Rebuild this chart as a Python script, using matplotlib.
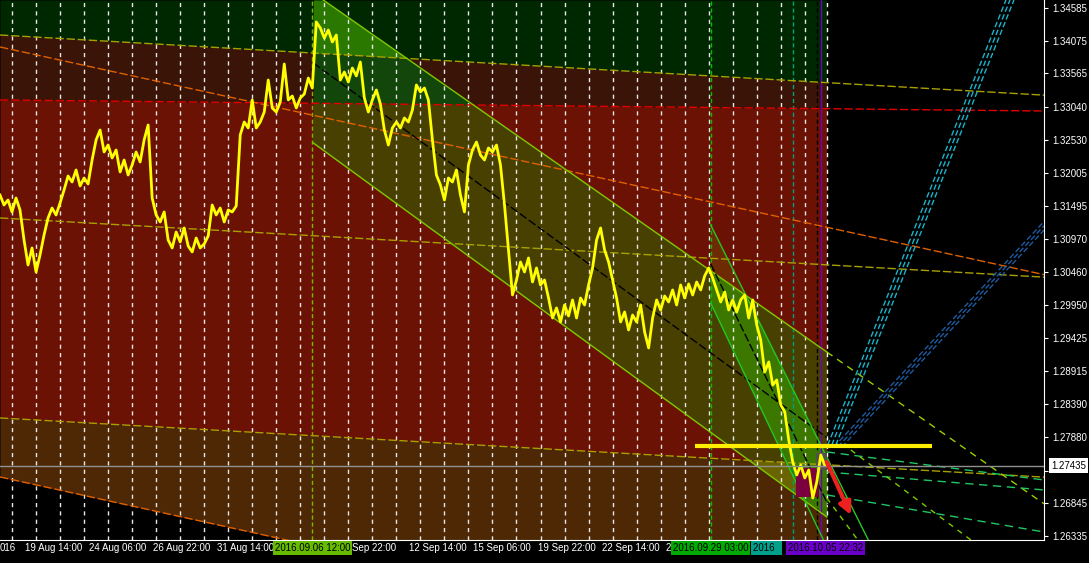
import numpy as np
import matplotlib
matplotlib.use("Agg")
import matplotlib.pyplot as plt

plt.rcParams['font.family'] = ['Liberation Sans', 'DejaVu Sans']

# close prices, one value per bar
close = [
    1.31663, 1.31507, 1.31585, 1.31398, 1.31616, 1.31429, 1.30960, 1.30569, 1.30835, 1.30460,
    1.30726, 1.31038, 1.31304, 1.31460, 1.31351, 1.31538, 1.31741, 1.31960, 1.31866, 1.32054,
    1.31804, 1.31929, 1.31835, 1.32210, 1.32523, 1.32679, 1.32335, 1.32444, 1.32241, 1.32366,
    1.32023, 1.32210, 1.31976, 1.32132, 1.32335, 1.32179, 1.32523, 1.32757, 1.31616, 1.31351,
    1.31241, 1.31398, 1.30960, 1.30835, 1.31085, 1.30929, 1.31148, 1.30866, 1.30773, 1.30991,
    1.30835, 1.30898, 1.31023, 1.31507, 1.31351, 1.31460, 1.31241, 1.31429, 1.31398, 1.31491,
    1.32601, 1.32804, 1.32710, 1.33148, 1.32710, 1.32804, 1.32960, 1.33460, 1.33023, 1.32960,
    1.33116, 1.33710, 1.33148, 1.33210, 1.33023, 1.33179, 1.33241, 1.33491, 1.33335, 1.34366,
    1.34273, 1.34116, 1.34241, 1.34054, 1.34163, 1.33460, 1.33585, 1.33429, 1.33648, 1.33523,
    1.33741, 1.33179, 1.32960, 1.33148, 1.33304, 1.33085, 1.32679, 1.32444, 1.32710, 1.32804,
    1.32710, 1.32866, 1.32804, 1.32991, 1.33382, 1.33273, 1.33335, 1.33148, 1.32523, 1.31976,
    1.31819, 1.31585, 1.31929, 1.31866, 1.32054, 1.31663, 1.31398, 1.32132, 1.32366, 1.32491,
    1.32288, 1.32210, 1.32398, 1.32335, 1.32444, 1.32132, 1.31507, 1.30804, 1.30101, 1.30335,
    1.30616, 1.30460, 1.30679, 1.30304, 1.30523, 1.30257, 1.30335, 1.30054, 1.29741, 1.29898,
    1.29679, 1.29944, 1.29773, 1.30023, 1.29741, 1.30054, 1.29944, 1.30257, 1.30523, 1.30960,
    1.31148, 1.30804, 1.30616, 1.30335, 1.30054, 1.29679, 1.29835, 1.29554, 1.29788, 1.29679,
    1.29944, 1.29523, 1.29273, 1.29741, 1.30023, 1.29866, 1.30085, 1.29991, 1.30179, 1.29944,
    1.30257, 1.30054, 1.30273, 1.30101, 1.30304, 1.30179, 1.30398, 1.30523, 1.30366, 1.30179,
    1.29991, 1.30148, 1.29866, 1.30023, 1.29835, 1.30023, 1.30101, 1.29741, 1.30023, 1.29632,
    1.29398, 1.28898, 1.29054, 1.28694, 1.28773, 1.28382, 1.28273, 1.27835, 1.27491, 1.27288,
    1.27444, 1.27241, 1.27366, 1.26929, 1.27179, 1.27601, 1.27435,
]
last_price = 1.27435

price_ticks = [1.34585, 1.34075, 1.33565, 1.33040, 1.32530, 1.32005, 1.31495, 1.30970,
               1.30460, 1.29950, 1.29425, 1.28915, 1.28390, 1.27880, 1.27355, 1.26845, 1.26335]
hidden_tick = 1.27355  # sits under the current-price box

# visible parts of the time scale (the rest is hidden under the marker boxes)
time_label_bars = [0, 6.25, 22.25, 38.25, 54.25, 88, 102.25, 118.25, 134.25, 150.25, 166.25]
time_labels = ["016", "19 Aug 14:00", "24 Aug 06:00", "26 Aug 22:00", "31 Aug 14:00",
               "Sep 22:00", "12 Sep 14:00", "15 Sep 06:00", "19 Sep 22:00", "22 Sep 14:00", "2"]

marker_bars = [78, 177.5, 206.25]
marker_labels = ["2016.09.06 12:00", "2016.09.29 03:00", "2016.10.05 22:32"]
marker_colors = ['#66bb00', '#00aa00', '#6a00c8']
teal_bar = 188.0
teal_label = "2016  "

# trend objects as (bar, price) anchor pairs
olive_top = [(0, 1.34163), (260, 1.33226)]
red_line = [(0, 1.33148), (260, 1.32976)]
orange_top = [(0, 1.33976), (260, 1.30429)]
olive_mid = [(0, 1.31304), (260, 1.30382)]
olive_low = [(0, 1.28179), (260, 1.27257)]
orange_low = [(0, 1.27257), (260, 1.23679)]
band_hi = [(78.25, 1.34819), (206.5, 1.29210)]
band_lo = [(78.25, 1.32476), (206.5, 1.26632)]
band_mid = [(78.25, 1.33726), (206.5, 1.27874)]
small_hi = [(177.5, 1.31194), (206.5, 1.27569)]
small_lo = [(177.5, 1.29976), (206.5, 1.26163)]
cyan_ray = [(206.75, 1.27757), (251.25, 1.34710)]
blue_ray = [(208.25, 1.27726), (260.75, 1.31249)]
fan_lines = [
    [(206.5, 1.27648), (260.75, 1.27210)],
    [(206.5, 1.27335), (260.75, 1.27054)],
    [(206.5, 1.26976), (260.75, 1.26397)],
]
fan_steep = [
    [(212.5, 1.27679), (242.5, 1.26272)],
    [(206.5, 1.26929), (214.25, 1.26272)],
]
level_line = [(173.5, 1.27741), (232.75, 1.27741)]
arrow_from = (206.5, 1.27491)
arrow_to = (212.5, 1.26663)

y_top, y_bot = 1.34710, 1.26272
x_end = 260.75
data_end = 206.5


def line_at(seg, x):
    (x0, y0), (x1, y1) = seg
    return y0 + (y1 - y0) * (np.asarray(x, dtype=float) - x0) / (x1 - x0)


fig = plt.figure(figsize=(10.89, 5.63), dpi=100, facecolor='black')
ax = fig.add_axes([0, 23 / 563, 1044 / 1089, 540 / 563])
ax.set_facecolor('black')
ax.set_xlim(0, x_end)
ax.set_ylim(y_bot, y_top)

# background zones
xz = np.linspace(0, data_end, 800)
top = np.full_like(xz, y_top)
zone_bounds = [
    (top, line_at(olive_top, xz), '#002800', '#2a7800'),
    (line_at(olive_top, xz), line_at(red_line, xz), '#3a1406', '#12460a'),
    (line_at(red_line, xz), line_at(olive_low, xz), '#6c1204', '#484000'),
    (line_at(olive_low, xz), line_at(orange_low, xz), '#4e2804', '#6a6400'),
]
for zt, zb, c, _ in zone_bounds:
    ax.fill_between(xz, zb, zt, color=c, lw=0, zorder=1)

# big regression channel, coloured per zone
bhi = line_at(band_hi, xz)
blo = line_at(band_lo, xz)
inband = xz >= band_hi[0][0]
for zt, zb, _, c in zone_bounds:
    hi = np.minimum(zt, bhi)
    lo = np.maximum(zb, blo)
    ax.fill_between(xz, lo, hi, where=inband & (hi > lo), interpolate=True,
                    color=c, lw=0, zorder=2)

# small steep channel
shi = line_at(small_hi, xz)
slo = line_at(small_lo, xz)
insmall = xz >= small_hi[0][0]
hi = np.minimum(shi, bhi)
lo = np.maximum(slo, blo)
ax.fill_between(xz, lo, hi, where=insmall & (hi > lo), interpolate=True,
                color='#3c7800', lw=0, zorder=3)
lo2 = np.maximum(slo, bhi)
ax.fill_between(xz, lo2, shi, where=insmall & (shi > lo2), interpolate=True,
                color='#6e2a02', lw=0, zorder=3)

# vertical separators
for b in np.arange(3, 202, 6):
    ax.axvline(b, color='#e8e8e8', lw=1, ls=(0, (3, 3)), zorder=4)
ax.axvline(78, color='#7ab800', lw=1, ls=(0, (3, 2)), zorder=4)
ax.axvline(177.5, color='#00c000', lw=1, ls=(0, (3, 2)), zorder=4)
ax.axvline(198, color='#00a080', lw=1, ls=(0, (3, 2)), zorder=4)
ax.axvline(204, color='black', lw=1, ls=(0, (3, 2)), zorder=4)
ax.axvline(205, color='#7000c0', lw=1, zorder=4)
ax.axvline(206.5, color='white', lw=1, ls=(0, (3, 3)), zorder=4)

# trend lines across the whole chart
xl = np.array([0, x_end])
for seg, c in [(olive_top, '#a8a000'), (red_line, '#e00000'), (orange_top, '#e06000'),
               (olive_mid, '#a8a000'), (olive_low, '#a8a000'), (orange_low, '#e06000')]:
    ax.plot(xl, line_at(seg, xl), color=c, lw=1, ls=(0, (6, 2)), zorder=5)

xb = np.array([band_hi[0][0], data_end])
ax.plot(xb, line_at(band_hi, xb), color='#7fc800', lw=1, zorder=5)
ax.plot(xb, line_at(band_lo, xb), color='#7fc800', lw=1, zorder=5)
ax.plot(xb, line_at(band_mid, xb), color='black', lw=1, ls=(0, (6, 2)), zorder=5)
xbe = np.array([data_end, x_end])
ax.plot(xbe, line_at(band_hi, xbe), color='#9acd00', lw=1, ls=(0, (5, 4)), zorder=5)

xs = np.array([small_hi[0][0], 218])
ax.plot(xs, line_at(small_hi, xs), color='#22c822', lw=1, zorder=5)
ax.plot(xs, line_at(small_lo, xs), color='#22c822', lw=1, zorder=5)
ax.plot(xs, (line_at(small_hi, xs) + line_at(small_lo, xs)) / 2,
        color='black', lw=1, ls=(0, (6, 2)), zorder=5)

for d in [0, 1, 2]:
    (x0, y0), (x1, y1) = cyan_ray
    ax.plot([x0 + d, x1 + d], [y0, y1], color='#18b4cc', lw=1, ls=(0, (4, 2)), zorder=5)
    (x0, y0), (x1, y1) = blue_ray
    ax.plot([x0 + d, x1], [y0, line_at(blue_ray, x1 - d)], color='#1e5aa0', lw=1,
            ls=(0, (4, 2)), zorder=5)

for seg in fan_lines:
    xx = [seg[0][0], seg[1][0]]
    ax.plot(xx, [seg[0][1], seg[1][1]], color='#1ec864', lw=1, ls=(0, (6, 4)), zorder=5)
for seg in fan_steep:
    xx = [seg[0][0], seg[1][0]]
    ax.plot(xx, [seg[0][1], seg[1][1]], color='#7cc800', lw=1, ls=(0, (4, 4)), zorder=5)

# last bars boxes
ax.fill_between([198.75, 204.5], 1.26944, 1.27398, color='#7a0040', lw=0, zorder=5)
ax.fill_between([203.75, 206.5], 1.27366, 1.27632, color='#505050', lw=0, zorder=5)

# price line
ax.plot(np.arange(len(close)), close, color='#ffff00', lw=2.0, zorder=6)

# current price line and level
ax.axhline(last_price, color='#909090', lw=1, zorder=6)
ax.plot([level_line[0][0], level_line[1][0]], [level_line[0][1], level_line[1][1]],
        color='#ffee00', lw=3, zorder=7, solid_capstyle='butt')

ax.annotate('', xy=arrow_to, xytext=arrow_from,
            arrowprops=dict(arrowstyle='-|>', color='#ee2020', lw=3,
                            mutation_scale=18, shrinkA=0, shrinkB=0), zorder=8)

# axes styling
for s in ['left', 'top']:
    ax.spines[s].set_visible(False)
ax.spines['right'].set_color('white')
ax.spines['bottom'].set_color('white')
ax.yaxis.tick_right()
ax.set_yticks(price_ticks)
ax.set_yticklabels(["" if p == hidden_tick else f"{p:.5f}" for p in price_ticks])
ax.tick_params(axis='y', colors='white', length=3, pad=3, labelsize=7)
ax.set_xticks([])

tr = ax.get_xaxis_transform()
for b, lab in zip(time_label_bars, time_labels):
    ax.text(b, -0.015, lab, transform=tr, color='white', fontsize=7,
            ha='left', va='center', clip_on=False)

ax.text(teal_bar, -0.015, teal_label, transform=tr, color='black', fontsize=7, ha='left',
        va='center', clip_on=False, zorder=20,
        bbox=dict(boxstyle='square,pad=0.2', fc='#00a08a', ec='none'))
for i, (b, lab, c) in enumerate(zip(marker_bars, marker_labels, marker_colors)):
    ax.text(b, -0.015, lab, transform=tr, color='black', fontsize=7, ha='center',
            va='center', clip_on=False, zorder=21 + i,
            bbox=dict(boxstyle='square,pad=0.2', fc=c, ec='none'))

ax.text(1.0067, last_price, f"{last_price:.5f}", transform=ax.get_yaxis_transform(),
        color='black', fontsize=7, ha='left', va='center', clip_on=False, zorder=30,
        bbox=dict(boxstyle='square,pad=0.25', fc='white', ec='none'))

fig.savefig('out.png', dpi=100, facecolor='black')
